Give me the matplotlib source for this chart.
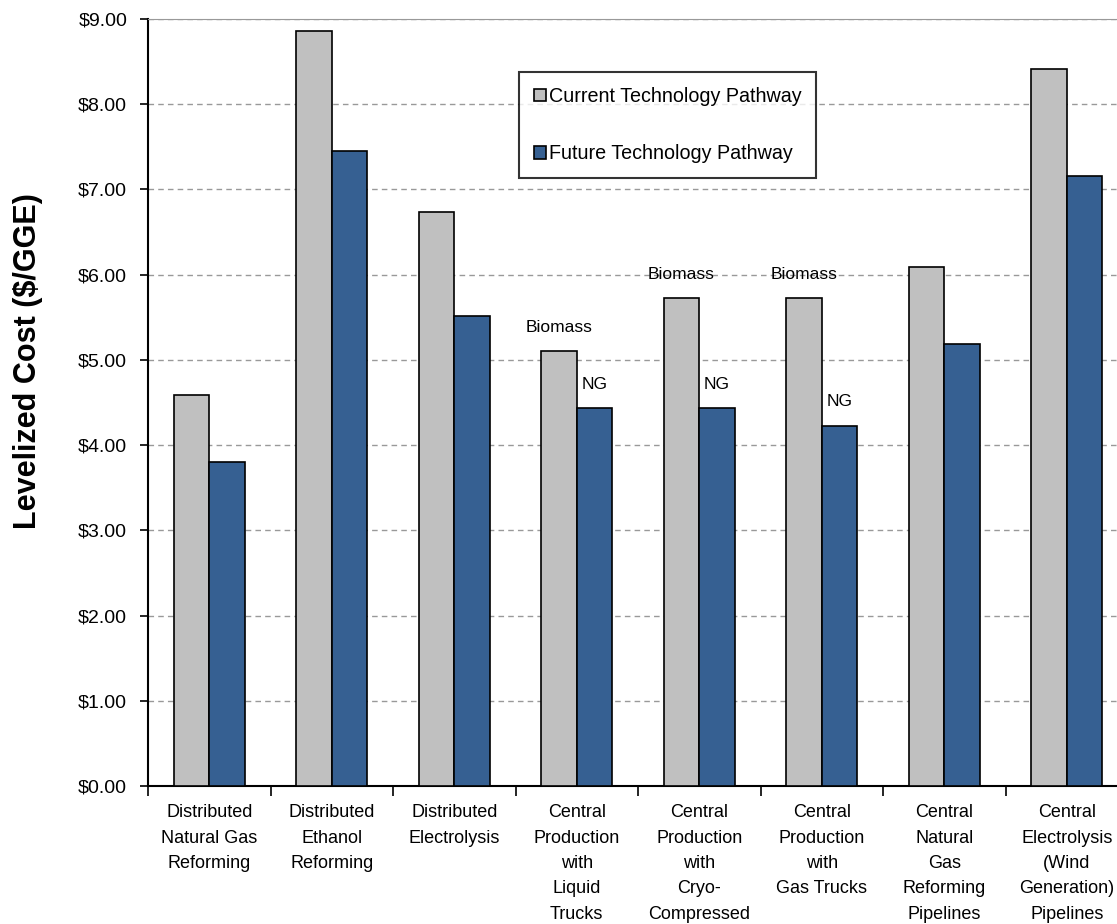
import matplotlib.pyplot as plt
import numpy as np
from matplotlib.ticker import FuncFormatter, FixedLocator

plt.rcParams['font.family'] = ['Liberation Sans', 'DejaVu Sans']

# ---- data ----
categories = [
    "Distributed\nNatural Gas\nReforming",
    "Distributed\nEthanol\nReforming",
    "Distributed\nElectrolysis",
    "Central\nProduction\nwith\nLiquid\nTrucks",
    "Central\nProduction\nwith\nCryo-\nCompressed",
    "Central\nProduction\nwith\nGas Trucks",
    "Central\nNatural\nGas\nReforming\nPipelines",
    "Central\nElectrolysis\n(Wind\nGeneration)\nPipelines",
]
current = [4.59, 8.86, 6.74, 5.10, 5.73, 5.73, 6.09, 8.41]
future  = [3.80, 7.45, 5.51, 4.44, 4.44, 4.23, 5.19, 7.16]
current_notes = ["", "", "", "Biomass", "Biomass", "Biomass", "", ""]
future_notes  = ["", "", "", "NG", "NG", "NG", "", ""]

GRAY = "#C0C0C0"
BLUE = "#366092"

fig = plt.figure(figsize=(11.17, 9.24), dpi=100)
ax = fig.add_axes([148/1117, 1-786/924, 980/1117, 767/924])

x = np.arange(len(categories))
w = 0.29
b1 = ax.bar(x - w/2, current, w, color=GRAY, edgecolor="black", linewidth=1.2,
            label="Current Technology Pathway", zorder=3)
b2 = ax.bar(x + w/2, future, w, color=BLUE, edgecolor="black", linewidth=1.2,
            label="Future Technology Pathway", zorder=3)

for i in range(len(categories)):
    if current_notes[i]:
        ax.annotate(current_notes[i], (x[i] - w/2, current[i]), xytext=(0, 17),
                    textcoords="offset points", ha="center", va="center", fontsize=12.5)
    if future_notes[i]:
        ax.annotate(future_notes[i], (x[i] + w/2, future[i]), xytext=(0, 17),
                    textcoords="offset points", ha="center", va="center", fontsize=12.5)

ax.set_ylim(0, 9)
ax.set_xlim(-0.5, len(categories) - 0.5)
ax.set_yticks(np.arange(0, 10, 1))
ax.yaxis.set_major_formatter(FuncFormatter(lambda v, p: f"${v:.2f}"))
ax.tick_params(axis="y", labelsize=14, length=6, width=1.2, direction="out", pad=9)
ax.yaxis.grid(True, linestyle=(0, (4, 3)), color="#999999", linewidth=1, zorder=0)

ax.set_xticks(x)
ax.set_xticklabels(categories, fontsize=13, linespacing=1.65, va="top")
ax.tick_params(axis="x", length=0, pad=13)
ax.xaxis.set_minor_locator(FixedLocator(np.arange(-0.5, len(categories), 1)))
ax.tick_params(axis="x", which="minor", length=7, width=1.2, direction="out")

for s in ["left", "bottom"]:
    ax.spines[s].set_linewidth(1.5)
    ax.spines[s].set_color("black")
ax.spines["top"].set_color("#999999")
ax.spines["right"].set_visible(False)

fig.text(0.025, 1 - 361/924, "Levelized Cost ($/GGE)", rotation=90, fontsize=22,
         fontweight="bold", ha="center", va="center")

leg = fig.legend(handles=[b1, b2], loc="upper left",
                 bbox_to_anchor=(519/1117, 1 - 72/924), fontsize=14.2,
                 frameon=True, fancybox=False, edgecolor="black",
                 handlelength=0.6, handleheight=0.6, handletextpad=0.15,
                 labelspacing=1.95, borderpad=0.75, borderaxespad=0)
leg.get_frame().set_linewidth(1.5)

fig.savefig("out.png", dpi=100)
